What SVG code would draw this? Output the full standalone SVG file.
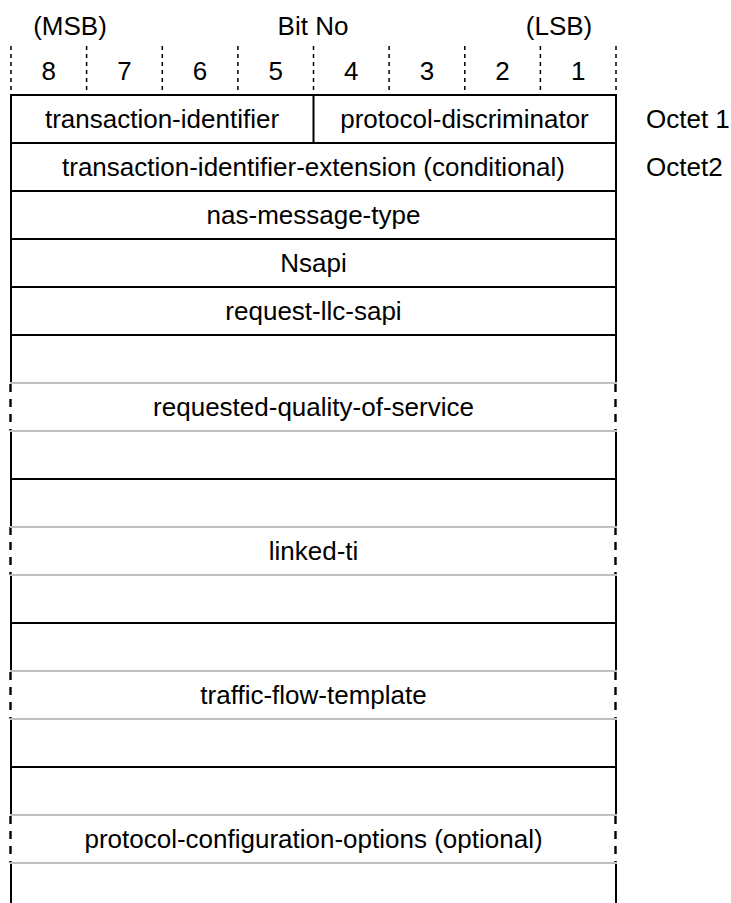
<svg xmlns="http://www.w3.org/2000/svg" width="731" height="903" viewBox="0 0 731 903">
<style>
text{font-family:"Liberation Sans",Arial,sans-serif;font-size:26px;fill:#000}
.c{text-anchor:middle}
.b{stroke:#000;stroke-width:2;fill:none}
.g{stroke:#c0c0c0;stroke-width:2;fill:none}
.d{stroke:#000;stroke-width:2.4;fill:none;stroke-dasharray:8 7}
.t{stroke:#000;stroke-width:1.5;fill:none;stroke-dasharray:4 4}
</style>
<rect width="731" height="903" fill="#fff"/>
<g id="header">
<text class="c" x="70" y="35">(MSB)</text>
<text class="c" x="313" y="35">Bit No</text>
<text class="c" x="559" y="35">(LSB)</text>
<g id="ticks">
<line class="t" x1="11" y1="46" x2="11" y2="94"/>
<line class="t" x1="86.6" y1="46" x2="86.6" y2="94"/>
<line class="t" x1="162.3" y1="46" x2="162.3" y2="94"/>
<line class="t" x1="237.9" y1="46" x2="237.9" y2="94"/>
<line class="t" x1="313.5" y1="46" x2="313.5" y2="94"/>
<line class="t" x1="389.1" y1="46" x2="389.1" y2="94"/>
<line class="t" x1="464.8" y1="46" x2="464.8" y2="94"/>
<line class="t" x1="540.4" y1="46" x2="540.4" y2="94"/>
<line class="t" x1="616" y1="46" x2="616" y2="94"/>
</g>
<text class="c" x="48.8" y="80">8</text>
<text class="c" x="124.4" y="80">7</text>
<text class="c" x="200.1" y="80">6</text>
<text class="c" x="275.7" y="80">5</text>
<text class="c" x="351.3" y="80">4</text>
<text class="c" x="427" y="80">3</text>
<text class="c" x="502.6" y="80">2</text>
<text class="c" x="578.2" y="80">1</text>
</g>
<g id="frame">
<line class="b" x1="11" y1="94" x2="11" y2="383"/>
<line class="b" x1="616" y1="94" x2="616" y2="383"/>
<line class="d" x1="10.5" y1="384" x2="10.5" y2="431"/>
<line class="d" x1="615.5" y1="384" x2="615.5" y2="431"/>
<line class="b" x1="11" y1="431" x2="11" y2="527"/>
<line class="b" x1="616" y1="431" x2="616" y2="527"/>
<line class="d" x1="10.5" y1="527" x2="10.5" y2="575"/>
<line class="d" x1="615.5" y1="527" x2="615.5" y2="575"/>
<line class="b" x1="11" y1="575" x2="11" y2="671"/>
<line class="b" x1="616" y1="575" x2="616" y2="671"/>
<line class="d" x1="10.5" y1="672" x2="10.5" y2="719"/>
<line class="d" x1="615.5" y1="672" x2="615.5" y2="719"/>
<line class="b" x1="11" y1="719" x2="11" y2="815"/>
<line class="b" x1="616" y1="719" x2="616" y2="815"/>
<line class="d" x1="10.5" y1="816" x2="10.5" y2="863"/>
<line class="d" x1="615.5" y1="816" x2="615.5" y2="863"/>
<line class="b" x1="11" y1="863" x2="11" y2="903"/>
<line class="b" x1="616" y1="863" x2="616" y2="903"/>
</g>
<g id="octet1">
<line class="b" x1="10" y1="95" x2="617" y2="95"/>
<line class="b" x1="313.5" y1="95" x2="313.5" y2="143"/>
<text class="c" x="162" y="128">transaction-identifier</text>
<text class="c" x="464.5" y="128">protocol-discriminator</text>
<text x="646" y="128">Octet 1</text>
</g>
<g id="octet2">
<line class="b" x1="11" y1="143" x2="616" y2="143"/>
<text class="c" x="313.5" y="176">transaction-identifier-extension (conditional)</text>
<text x="646" y="176">Octet2</text>
</g>
<g id="nas-message-type">
<line class="b" x1="11" y1="191" x2="616" y2="191"/>
<text class="c" x="313.5" y="224">nas-message-type</text>
</g>
<g id="nsapi">
<line class="b" x1="11" y1="239" x2="616" y2="239"/>
<text class="c" x="313.5" y="272">Nsapi</text>
</g>
<g id="request-llc-sapi">
<line class="b" x1="11" y1="287" x2="616" y2="287"/>
<text class="c" x="313.5" y="320">request-llc-sapi</text>
</g>
<g id="requested-quality-of-service">
<line class="b" x1="11" y1="335" x2="616" y2="335"/>
<line class="g" x1="10" y1="383" x2="617" y2="383"/>
<line class="g" x1="10" y1="431" x2="617" y2="431"/>
<text class="c" x="313.5" y="416">requested-quality-of-service</text>
</g>
<g id="linked-ti">
<line class="b" x1="11" y1="479" x2="616" y2="479"/>
<line class="g" x1="10" y1="527" x2="617" y2="527"/>
<line class="g" x1="10" y1="575" x2="617" y2="575"/>
<text class="c" x="313.5" y="560">linked-ti</text>
</g>
<g id="traffic-flow-template">
<line class="b" x1="11" y1="623" x2="616" y2="623"/>
<line class="g" x1="10" y1="671" x2="617" y2="671"/>
<line class="g" x1="10" y1="719" x2="617" y2="719"/>
<text class="c" x="313.5" y="704">traffic-flow-template</text>
</g>
<g id="protocol-configuration-options">
<line class="b" x1="11" y1="767" x2="616" y2="767"/>
<line class="g" x1="10" y1="815" x2="617" y2="815"/>
<line class="g" x1="10" y1="863" x2="617" y2="863"/>
<text class="c" x="313.5" y="848">protocol-configuration-options (optional)</text>
</g>
<g id="connectors"/>
</svg>
